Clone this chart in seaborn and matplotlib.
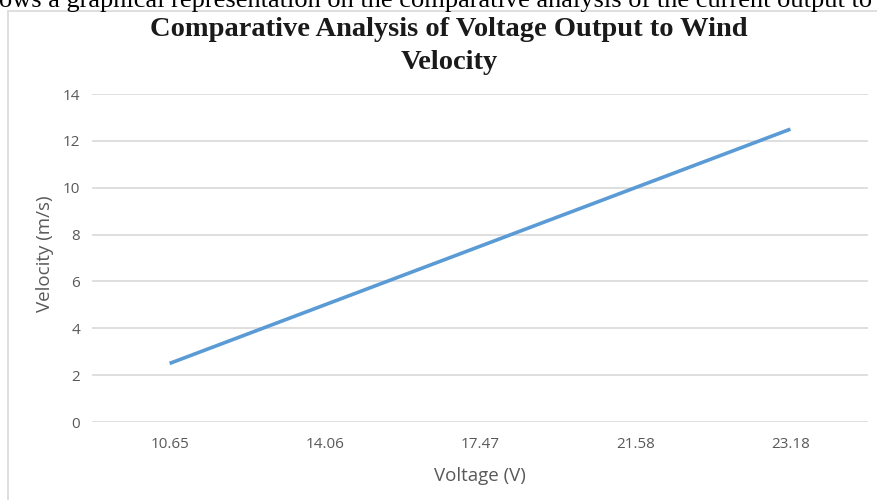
import matplotlib
matplotlib.use("Agg")
import matplotlib.pyplot as plt
from matplotlib.lines import Line2D
import seaborn as sns
import pandas as pd

voltage_labels = ["10.65", "14.06", "17.47", "21.58", "23.18"]
velocity = [2.5, 5.0, 7.5, 10.0, 12.5]
y_ticks = [0, 2, 4, 6, 8, 10, 12, 14]

sns.set_theme(style="white")
plt.rcParams["font.family"] = ["Open Sans", "DejaVu Sans"]

W, H = 877, 500
fig = plt.figure(figsize=(W / 100, H / 100), dpi=100)
ax = fig.add_axes([92 / W, (H - 422) / H, (868 - 92) / W, (422 - 94) / H])

df = pd.DataFrame({"Voltage": voltage_labels, "Velocity": velocity})
sns.lineplot(data=df, x="Voltage", y="Velocity", sort=False, ax=ax,
             color="#5b9bd5", linewidth=2.6, solid_capstyle="butt")

ax.set_xlim(-0.5, len(voltage_labels) - 0.5)
ax.set_ylim(0, 14)
ax.set_yticks(y_ticks)
ax.set_yticklabels([str(t) for t in y_ticks])
ax.grid(axis="y", color="#d9d9d9", linewidth=1.2)
ax.grid(axis="x", visible=False)
for s in ax.spines.values():
    s.set_visible(False)
ax.tick_params(axis="both", length=0, labelsize=11, colors="#595959")
ax.tick_params(axis="x", pad=11)
ax.tick_params(axis="y", pad=8.6)
ax.set_xlabel("Voltage (V)", fontsize=13.5, color="#595959", va="center")
ax.xaxis.set_label_coords(0.5, (422 - 476) / 328)
ax.set_ylabel("Velocity (m/s)", fontsize=13.5, color="#595959", va="center")
ax.yaxis.set_label_coords((45 - 92) / 776, (422 - 254) / 328)

# chart frame
fig.add_artist(Line2D([8 / W, 8 / W], [0, 1 - 11 / H], transform=fig.transFigure,
                      color="#d9d9d9", linewidth=1.2))
fig.add_artist(Line2D([8 / W, 1], [1 - 11 / H, 1 - 11 / H], transform=fig.transFigure,
                      color="#d9d9d9", linewidth=1.2))

# cut-off document text above
fig.text(436 / W, 1 - 7 / H,
         "ows a graphical representation on the comparative analysis of the current output to",
         ha="center", va="baseline", fontsize=19, family="Liberation Serif", color="black")

fig.text(449 / W, 1 - 46 / H,
         "Comparative Analysis of Voltage Output to Wind\nVelocity",
         ha="center", va="center", fontsize=20.5, fontweight="bold",
         family="Liberation Serif", color="#1a1a1a", linespacing=1.4)

fig.savefig("out.png", dpi=100, facecolor="white")
